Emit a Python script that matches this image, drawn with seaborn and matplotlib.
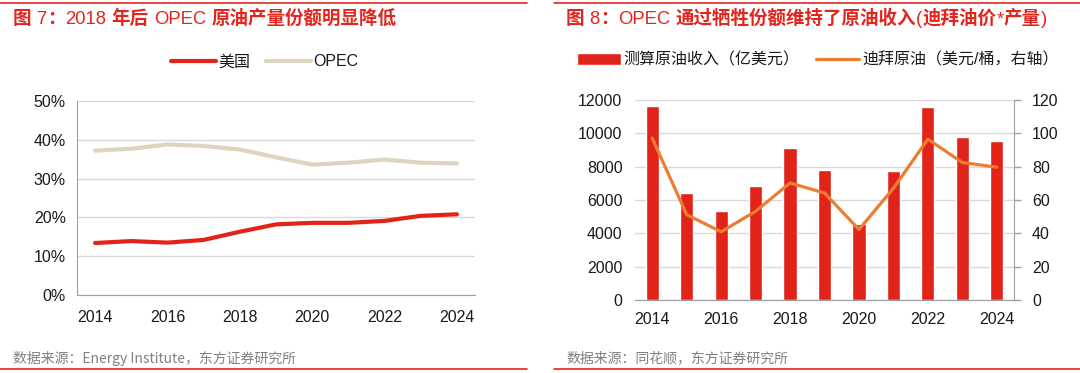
import matplotlib.pyplot as plt
import matplotlib.lines as mlines
import numpy as np
import pandas as pd
import seaborn as sns
from matplotlib.ticker import PercentFormatter, FixedLocator, MultipleLocator

# Data
years = [2014, 2015, 2016, 2017, 2018, 2019, 2020, 2021, 2022, 2023, 2024]
us_share = [13.4, 13.9, 13.5, 14.2, 16.3, 18.2, 18.6, 18.6, 19.1, 20.4, 20.8]
opec_share = [37.2, 37.7, 38.8, 38.4, 37.5, 35.5, 33.6, 34.1, 34.9, 34.1, 33.9]
revenue = [11660, 6420, 5320, 6860, 9110, 7810, 4585, 7715, 11600, 9810, 9550]
dubai = [97.1, 51.2, 40.9, 53.2, 70.2, 64.2, 42.3, 67.0, 96.5, 82.5, 79.7]

title_left = '图 7：2018 年后 OPEC 原油产量份额明显降低'
title_right = '图 8：OPEC 通过牺牲份额维持了原油收入(迪拜油价*产量)'
source_left = '数据来源：Energy Institute，东方证券研究所'
source_right = '数据来源：同花顺，东方证券研究所'

RED = '#E2231A'
TITLE_RED = '#E4251E'
BEIGE = '#DDD5BF'
ORANGE = '#ED7D31'
GRID = '#D9D9D9'
SPINE = '#A0A0A0'

df = pd.DataFrame({'pos': np.arange(len(years)), 'year': years,
                   'us': us_share, 'opec': opec_share,
                   'revenue': revenue, 'dubai': dubai})

sns.set_style('white')
plt.rcParams['font.family'] = ['Liberation Sans', 'Noto Sans CJK SC']
plt.rcParams['text.color'] = '#1A1A1A'
plt.rcParams['xtick.color'] = SPINE
plt.rcParams['ytick.color'] = SPINE
plt.rcParams['xtick.labelcolor'] = '#1A1A1A'
plt.rcParams['ytick.labelcolor'] = '#1A1A1A'

W, H = 1080, 373
fig = plt.figure(figsize=(W / 100, H / 100), dpi=100)

# ---------------- left chart ----------------
ax1 = fig.add_axes([77 / W, 1 - 295 / H, 398 / W, 194 / H])
sns.lineplot(data=df, x='pos', y='us', ax=ax1, color=RED, lw=3, label='美国')
sns.lineplot(data=df, x='pos', y='opec', ax=ax1, color=BEIGE, lw=3, label='OPEC')
ax1.get_legend().remove()
ax1.set_xlim(-0.5, len(years) - 0.5)
ax1.set_ylim(0, 50)
ax1.yaxis.set_major_locator(MultipleLocator(10))
ax1.yaxis.set_major_formatter(PercentFormatter(xmax=100, decimals=0))
ax1.set_xticks(df['pos'][::2], [str(y) for y in years[::2]])
ax1.xaxis.set_minor_locator(FixedLocator(np.arange(len(years) + 1) - 0.5))
ax1.tick_params(axis='x', which='major', length=0, pad=11, labelsize=11.5)
ax1.tick_params(axis='x', which='minor', length=4, width=1, direction='out')
ax1.tick_params(axis='y', length=0, pad=8, labelsize=11.5)
ax1.grid(axis='y', color=GRID, lw=1)
ax1.set_axisbelow(True)
ax1.set_xlabel('')
ax1.set_ylabel('')
for side in ['top', 'right']:
    ax1.spines[side].set_visible(False)
for side in ['left', 'bottom']:
    ax1.spines[side].set_color(SPINE)

h1, l1 = ax1.get_legend_handles_labels()
fig.legend(h1, l1, loc='center', bbox_to_anchor=(265 / W, 1 - 62 / H), ncol=2,
           frameon=False, fontsize=11.5, handlelength=2.8, handletextpad=0.15,
           columnspacing=1.0)

# ---------------- right chart ----------------
ax2 = fig.add_axes([635 / W, 1 - 300 / H, 379 / W, 200 / H])
sns.barplot(data=df, x='pos', y='revenue', ax=ax2, color=RED, width=0.38,
            saturation=1, label='测算原油收入（亿美元）')
ax3 = ax2.twinx()
sns.lineplot(data=df, x='pos', y='dubai', ax=ax3, color=ORANGE, lw=2.3,
             label='迪拜原油（美元/桶，右轴）')
if ax3.get_legend():
    ax3.get_legend().remove()
if ax2.get_legend():
    ax2.get_legend().remove()
ax2.set_xlim(-0.5, len(years) - 0.5)
ax2.set_ylim(0, 12000)
ax3.set_ylim(0, 120)
ax2.yaxis.set_major_locator(MultipleLocator(2000))
ax3.yaxis.set_major_locator(MultipleLocator(20))
ax2.set_xticks(df['pos'][::2], [str(y) for y in years[::2]])
ax2.xaxis.set_minor_locator(FixedLocator(np.arange(len(years) + 1) - 0.5))
ax2.tick_params(axis='x', which='major', length=0, pad=9, labelsize=11.5)
ax2.tick_params(axis='x', which='minor', length=4, width=1, direction='out')
ax2.tick_params(axis='y', length=0, pad=9, labelsize=11.5)
ax3.tick_params(axis='y', length=5, width=1, pad=8, labelsize=11.5)
ax2.grid(axis='y', color=GRID, lw=1)
ax2.set_axisbelow(True)
for a in (ax2, ax3):
    a.set_xlabel('')
    a.set_ylabel('')
    for side in ['top', 'left']:
        a.spines[side].set_visible(False)
ax2.spines['right'].set_visible(False)
ax3.spines['right'].set_color(SPINE)
ax3.spines['bottom'].set_color(SPINE)
ax2.spines['bottom'].set_color(SPINE)

h2, l2 = ax2.get_legend_handles_labels()
h3, l3 = ax3.get_legend_handles_labels()
fig.legend(h2 + h3, l2 + l3, loc='center', bbox_to_anchor=(818 / W, 1 - 60 / H),
           ncol=2, frameon=False, fontsize=11.5, handlelength=2.7,
           handletextpad=0.2, columnspacing=1.0)

# ---------------- titles, sources, red rules ----------------
renderer = fig.canvas.get_renderer()


def mixed_title(x_px, y_px, text, size=13.3):
    # CJK runs in bold, latin runs regular, as in the reference
    runs = []
    for ch in text:
        cjk = ord(ch) > 0x2E80
        if runs and runs[-1][1] == cjk:
            runs[-1][0] += ch
        else:
            runs.append([ch, cjk])
    x = x_px
    for s, cjk in runs:
        lead = len(s) - len(s.lstrip(' '))
        trail = len(s) - len(s.rstrip(' '))
        x += lead * 0.28 * size * 100 / 72
        s = s.strip(' ')
        if s:
            t = fig.text(x / W, 1 - y_px / H, s, fontsize=size, color=TITLE_RED,
                         va='baseline', ha='left',
                         family='Noto Sans CJK SC' if cjk else 'Liberation Sans',
                         fontweight='bold' if cjk else 'normal')
            x += t.get_window_extent(renderer).width
        x += trail * 0.28 * size * 100 / 72


mixed_title(13, 24, title_left)
mixed_title(566, 24, title_right)

fig.text(13 / W, 1 - 358 / H, source_left, fontsize=10, color='#808080',
         va='center', ha='left', family=['Noto Sans CJK SC'])
fig.text(566 / W, 1 - 358 / H, source_right, fontsize=10, color='#808080',
         va='center', ha='left', family=['Noto Sans CJK SC'])

for x0, x1 in [(0, 527), (554, 1080)]:
    for y in (3, 369):
        fig.add_artist(mlines.Line2D([x0 / W, x1 / W], [1 - y / H, 1 - y / H],
                                     transform=fig.transFigure, color=TITLE_RED, lw=1.2))

fig.savefig('out.png', dpi=100)
